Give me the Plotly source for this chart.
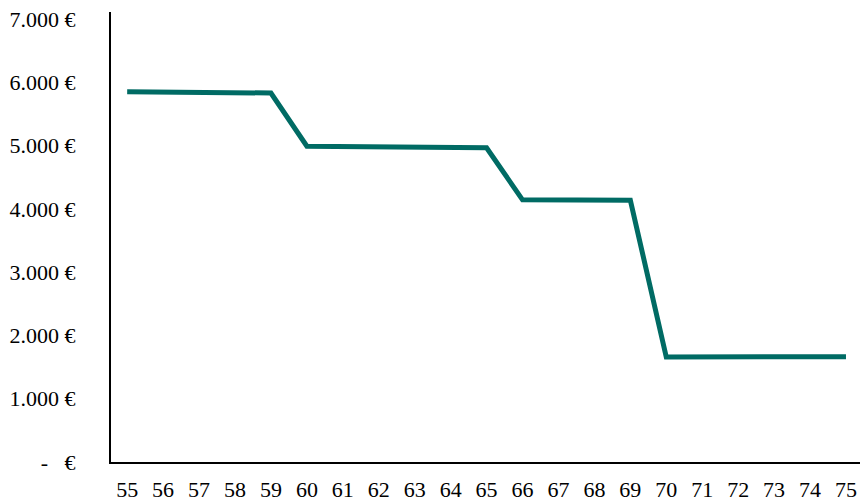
import plotly.graph_objects as go

# Monthly amount by age
ages = [str(a) for a in range(55, 76)]
amounts = [5850, 5845, 5840, 5835, 5830,
           4990, 4985, 4980, 4975, 4970, 4965,
           4142, 4140, 4138, 4136,
           1660, 1660, 1660, 1660, 1660, 1662]

y_ticks = [0, 1000, 2000, 3000, 4000, 5000, 6000, 7000]
y_tick_text = ["-\u00a0\u00a0\u00a0€", "1.000 €", "2.000 €", "3.000 €",
               "4.000 €", "5.000 €", "6.000 €", "7.000 €"]

fig = go.Figure(go.Scatter(
    x=ages, y=amounts, mode="lines",
    line=dict(color="#006B64", width=5),
    hoverinfo="skip",
))

font = dict(family="Liberation Serif, Times New Roman, serif", size=22, color="#000000")

fig.update_layout(
    width=860, height=502,
    margin=dict(l=111, r=0, t=12, b=40),
    paper_bgcolor="white", plot_bgcolor="white",
    showlegend=False,
    font=font,
    xaxis=dict(
        type="category", range=[-0.45, 20.39],
        showline=True, linecolor="#000000", linewidth=2,
        showgrid=False, zeroline=False, ticks="",
        ticklabelstandoff=7, tickfont=font, automargin=False,
    ),
    yaxis=dict(
        range=[0, 7110], tickvals=y_ticks, ticktext=y_tick_text,
        showline=True, linecolor="#000000", linewidth=2,
        showgrid=False, zeroline=False, ticks="",
        ticklabelstandoff=29, tickfont=font, automargin=False,
    ),
)

fig.write_html("out.html")
